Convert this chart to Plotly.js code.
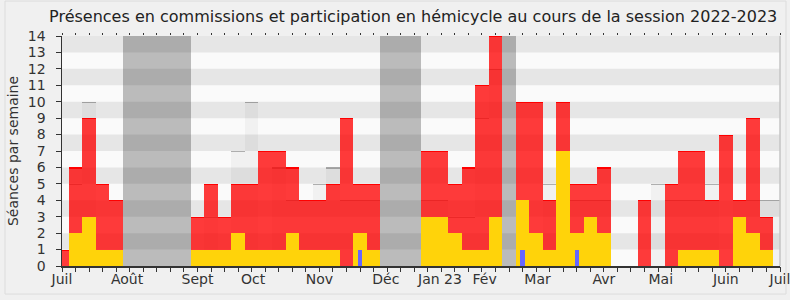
<!DOCTYPE html>
<html><head><meta charset="utf-8">
<script src="https://cdn.plot.ly/plotly-3.0.1.min.js"></script>
<style>html,body{margin:0;padding:0;background:#f0f0f0;}#chart{width:790px;height:300px;}</style>
</head><body><div id="chart"></div>
<script>
// week index (0 = first week of July 2022)
const weeks = [0,1,2,3,4,5,6,7,8,9,10,11,12,13,14,15,16,17,18,19,20,21,22,23,24,25,26,27,28,29,30,31,32,33,34,35,36,37,38,39,40,41,42,43,44,45,46,47,48,49,50,51,52,53];
// présences en commission (total)
const presences = [1,6,9,5,4,0,0,0,0,0,3,5,3,5,5,7,7,6,4,4,5,9,5,5,0,0,0,7,7,5,6,11,14,0,10,10,4,10,5,5,6,0,0,4,0,5,7,7,4,8,4,9,3,0];
// participations en hémicycle
const participations = [0,2,3,1,1,0,0,0,0,0,1,1,1,2,1,1,1,2,1,1,1,0,2,1,0,0,0,3,3,2,1,1,3,0,4,2,1,7,2,3,2,0,0,0,0,0,1,1,1,0,3,2,1,0];
// questions orales
const questions = [0,0,0,0,0,0,0,0,0,0,0,0,0,0,0,0,0,0,0,0,0,0,1,0,0,0,0,0,0,0,0,0,0,0,1,0,0,0,1,0,0,0,0,0,0,0,0,0,0,0,0,0,0,0];
// médiane des députés
const mediane = [null,5,10,null,null,null,null,null,null,null,null,3,null,7,10,null,6,4,4,5,6,4,4,4,null,null,null,4,4,3,3,9,12,null,null,null,5,null,4,4,4,null,null,null,5,4,4,4,5,null,4,4,4,4];
// vacances parlementaires
const vacances = [0,0,0,0,0,14,14,14,14,14,0,0,0,0,0,0,0,0,0,0,0,0,0,0,14,14,14,0,0,0,0,0,0,14,0,0,0,0,0,0,0,0,0,0,0,0,0,0,0,0,0,0,0,0];
// month labels
const monthPos = [0,4.8,10,14.1,19,23.9,27.9,31.2,35.1,40,44.2,49,53];
const monthLabels = ['Juil','Août','Sept','Oct','Nov','Déc','Jan 23','Fév','Mar','Avr','Mai','Juin','Juil'];

const nz = a => a.map(v => (v && v > 0) ? v : null);
const LINE = 0.07;
const topY = a => a.map(v => (v && v > 0) ? LINE : null);
const topBase = a => a.map(v => (v && v > 0) ? v - LINE : null);

const font = 'DejaVu Sans';
const traces = [
  {type:'bar', x:weeks, y:mediane, width:1, marker:{color:'rgba(0,0,0,0.035)', line:{width:0}}, hoverinfo:'skip', showlegend:false},
  {type:'bar', x:weeks, y:topY(mediane), base:topBase(mediane), width:1, marker:{color:'rgba(0,0,0,0.28)', line:{width:0}}, hoverinfo:'skip', showlegend:false},
  {type:'bar', x:weeks, y:nz(presences), width:1, marker:{color:'rgba(255,0,0,0.77)', line:{width:0}}, showlegend:false},
  {type:'bar', x:weeks, y:topY(presences), base:topBase(presences), width:1, marker:{color:'rgba(255,0,0,1)', line:{width:0}}, hoverinfo:'skip', showlegend:false},
  {type:'bar', x:weeks, y:nz(participations), width:1, marker:{color:'rgb(255,211,10)', line:{width:0}}, showlegend:false},
  {type:'bar', x:weeks, y:nz(questions), width:0.33, marker:{color:'rgb(102,102,255)', line:{width:0}}, showlegend:false},
  {type:'bar', x:weeks, y:nz(vacances), width:1, marker:{color:'rgba(0,0,0,0.25)', line:{width:0}}, hoverinfo:'skip', showlegend:false},
  {type:'scatter', x:[0], y:[0], xaxis:'x2', mode:'markers', marker:{opacity:0}, hoverinfo:'skip', showlegend:false},
  {type:'scatter', x:[0], y:[0], xaxis:'x3', mode:'markers', marker:{opacity:0}, hoverinfo:'skip', showlegend:false}
];

const shapes = [];
for (let k = 1; k < 14; k += 2) {
  shapes.push({type:'rect', layer:'below', xref:'paper', yref:'y', x0:0, x1:1, y0:k, y1:k+1, fillcolor:'#e6e6e6', line:{width:0}});
}
shapes.push({type:'line', xref:'paper', yref:'paper', x0:1, x1:1, y0:0, y1:1, line:{color:'#c4c4c4', width:1.5}});
shapes.push({type:'rect', xref:'paper', yref:'paper', x0:-0.0794, x1:1.0084, y0:-0.122, y1:1.152, line:{color:'#dcdcdc', width:1}, fillcolor:'rgba(0,0,0,0)'});

const layout = {
  width:790, height:300,
  margin:{l:62, r:10, t:36, b:34},
  paper_bgcolor:'#f0f0f0', plot_bgcolor:'#fafafa',
  barmode:'overlay', bargap:0,
  font:{family:font, size:14, color:'#333'},
  title:{text:'Présences en commissions et participation en hémicycle au cours de la session 2022-2023', font:{family:font, size:16, color:'#222'}, xref:'container', x:0.523, xanchor:'center', yref:'container', y:0.945, yanchor:'middle'},
  xaxis:{range:[0,53], tickmode:'array', tickvals:monthPos, ticktext:monthLabels, ticks:'', ticklabeloverflow:'allow', showgrid:false, zeroline:false, showline:true, linecolor:'#333', linewidth:1.5, tickfont:{family:font, size:14, color:'#333'}, fixedrange:true},
  xaxis2:{overlaying:'x', side:'bottom', range:[0,53], tickmode:'array', tickvals:weeks, ticks:'outside', ticklen:5, tickcolor:'#333', showticklabels:false, showgrid:false, zeroline:false, showline:false, fixedrange:true},
  xaxis3:{overlaying:'x', side:'top', range:[0,53], tickmode:'array', tickvals:weeks, ticks:'outside', ticklen:2, tickcolor:'#333', showticklabels:false, showgrid:false, zeroline:false, showline:false, fixedrange:true},
  yaxis:{range:[0,14], tickmode:'linear', tick0:0, dtick:1, ticks:'outside', ticklen:5, tickcolor:'#333', ticklabelstandoff:7, showgrid:false, zeroline:false, showline:true, linecolor:'#333', linewidth:1.5, tickfont:{family:font, size:14, color:'#333'}, title:{text:'Séances par semaine', font:{family:font, size:14, color:'#333'}, standoff:6}, fixedrange:true},
  shapes:shapes
};
Plotly.newPlot('chart', traces, layout, {staticPlot:true, displayModeBar:false});
</script></body></html>
